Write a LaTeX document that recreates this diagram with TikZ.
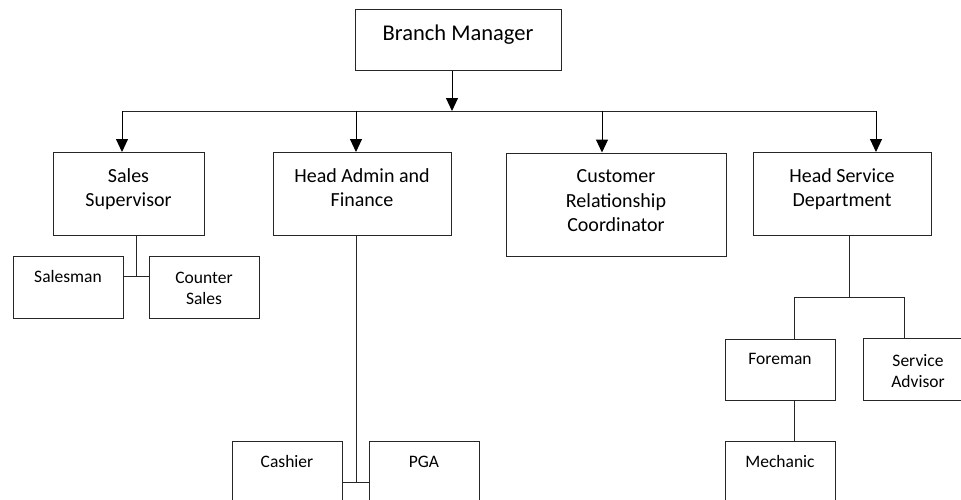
\documentclass[tikz,border=0pt]{standalone}
\usepackage{fontspec}
\setmainfont{Carlito}
\usetikzlibrary{arrows.meta,positioning}

\begin{document}
\begin{tikzpicture}[x=1pt,y=-1pt]
\tikzstyle{unit}=[rectangle, draw=black!85, line width=1pt, inner sep=0pt]
\tikzstyle{topunit}=[unit, minimum width=206pt, minimum height=61pt]
\tikzstyle{midunit}=[unit, minimum width=178pt, minimum height=83pt]
\tikzstyle{lowunit}=[unit, minimum width=110pt, minimum height=62pt]
\tikzstyle{lbl}=[inner sep=0pt, align=center, text=black]
\tikzstyle{bigfont}=[font=\fontsize{22.5}{27}\selectfont]
\tikzstyle{midfont}=[font=\fontsize{20}{24.5}\selectfont]
\tikzstyle{smallfont}=[font=\fontsize{17.5}{20.5}\selectfont]
\tikzstyle{connect}=[-{Triangle[width=12pt,length=13pt]}, line width=1pt, black]
\tikzstyle{wire}=[line width=1pt, draw=black!85]
\useasboundingbox (0,0) rectangle (961,499);
\clip (0,0) rectangle (961,499);
  % top
  \node[topunit] (bm) at (458,39.5) {};
  \node[lbl, bigfont, below=16.5pt of bm.north] (bmT) {Branch Manager};
  % second row
  \node[midunit, minimum width=151pt] (ss) at (128.5,194) {};
  \node[midunit] (ha) at (362,194) {};
  \node[midunit, minimum width=220pt, minimum height=103pt] (crc) at (616,204.5) {};
  \node[midunit] (hs) at (842,194) {};
  \node[lbl, midfont, below=16pt of ss.north] (ssT) {Sales\\Supervisor};
  \node[lbl, midfont, below=16pt of ha.north] (haT) {Head Admin and\\Finance};
  \node[lbl, midfont, below=17pt of crc.north] (crcT) {Customer\\Relationship\\Coordinator};
  \node[lbl, midfont, below=16pt of hs.north] (hsT) {Head Service\\Department};
  % staff
  \node[lowunit] (sm) at (68,287) {};
  \node[lowunit] (cs) at (204,287) {};
  \node[lowunit] (ca) at (287,472) {};
  \node[lowunit] (pga) at (424,472) {};
  \node[lowunit, minimum height=61pt] (fm) at (780,369.5) {};
  \node[lowunit] (sa) at (918,369) {};
  \node[lowunit] (me) at (780,472) {};
  \node[lbl, smallfont, below=14.5pt of sm.north] (smT) {Salesman};
  \node[lbl, smallfont, below=16.5pt of cs.north] (csT) {Counter\\Sales};
  \node[lbl, smallfont, below=15pt of ca.north] (caT) {Cashier};
  \node[lbl, smallfont, below=15pt of pga.north] (pgaT) {PGA};
  \node[lbl, smallfont, below=14.5pt of fm.north] (fmT) {Foreman};
  \node[lbl, smallfont, below=17pt of sa.north] (saT) {Service\\Advisor};
  \node[lbl, smallfont, below=15pt of me.north] (meT) {Mechanic};
  % branch manager to heads
  \coordinate (busL) at (122,111);
  \coordinate (busR) at (876,111);
  \draw[wire] (busL) -- (busR);
  \draw[connect] ([xshift=-6pt]bm.south) -- ([xshift=-6pt]bm.south |- busL);
  \draw[connect] (busL) -- (ss.north -| busL);
  \draw[connect] ([xshift=-6pt]ha.north |- busL) -- ([xshift=-6pt]ha.north);
  \draw[connect] ([xshift=-14pt]crc.north |- busL) -- ([xshift=-14pt]crc.north);
  \draw[connect] (busR) -- (hs.north -| busR);
  % heads to staff
  \coordinate (ssJ) at (136,276);
  \draw[wire] (ss.south -| ssJ) -- (ssJ);
  \draw[wire] (sm.east |- ssJ) -- (cs.west |- ssJ);
  \coordinate (haJ) at (356,482);
  \draw[wire] (ha.south -| haJ) -- (haJ);
  \draw[wire] (ca.east |- haJ) -- (pga.west |- haJ);
  \coordinate (hsJ) at (849,297);
  \draw[wire] (hs.south -| hsJ) -- (hsJ);
  \draw[wire] ([xshift=14pt]fm.north) |- ([xshift=-14pt]sa.north |- hsJ) -- ([xshift=-14pt]sa.north);
  \draw[wire] ([xshift=14pt]fm.south) -- ([xshift=14pt]me.north);
\end{tikzpicture}
\end{document}
